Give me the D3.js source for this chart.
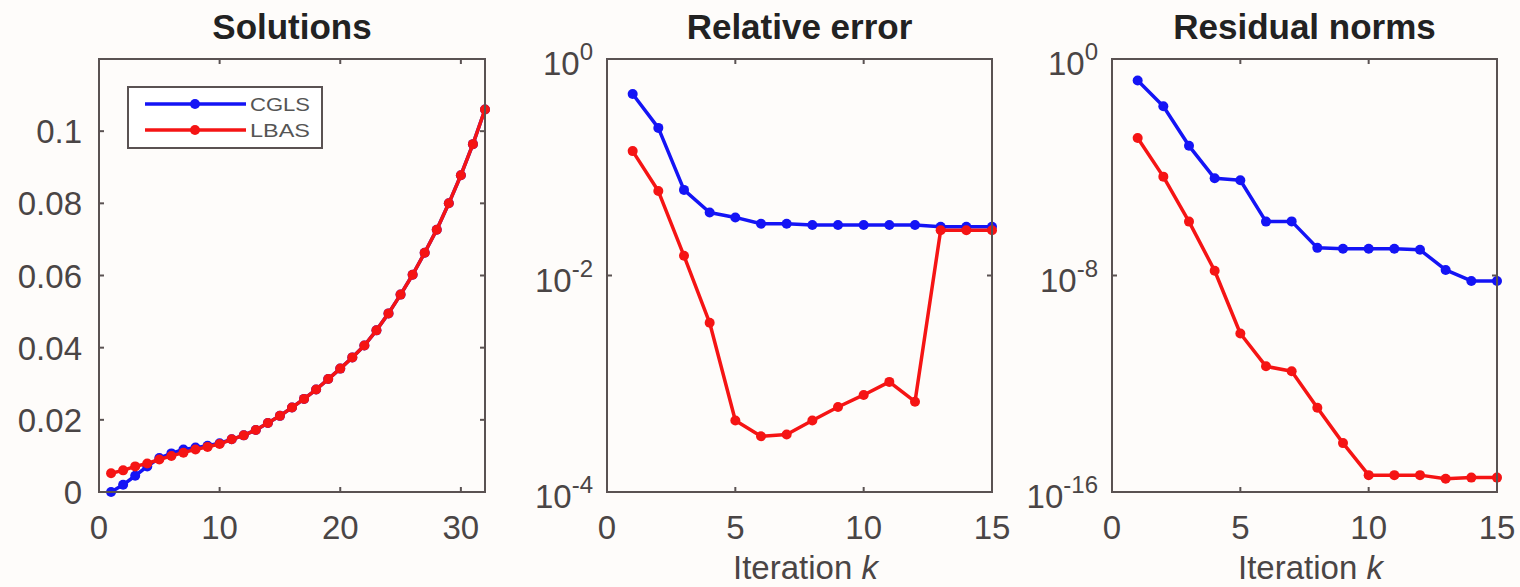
<!DOCTYPE html>
<html>
<head>
<meta charset="utf-8">
<script src="https://cdn.jsdelivr.net/npm/d3@7"></script>
<style>
  body { margin: 0; background: #fefcfa; }
  svg { display: block; font-family: "Liberation Sans", Arial, Helvetica, sans-serif; }
  .tick-label { fill: #4a4545; font-size: 33px; }
  .title { fill: #222; font-size: 35px; font-weight: bold; }
</style>
</head>
<body>
<div id="chart"></div>
<script>
// ---- data ----
const solIndex = d3.range(1, 33);
const solCGLS = [0.0, 0.0020, 0.0045, 0.0071, 0.0094, 0.0107, 0.0118, 0.0123, 0.0128, 0.0135,
  0.0146, 0.0157, 0.0172, 0.0191, 0.0211, 0.0234, 0.0258, 0.0284, 0.0313, 0.0342,
  0.0373, 0.0406, 0.0448, 0.0495, 0.0547, 0.0602, 0.0663, 0.0727, 0.0800, 0.0878, 0.0964, 0.1060];
const solLBAS = [0.0052, 0.0060, 0.0071, 0.0079, 0.0090, 0.0100, 0.0109, 0.0118, 0.0125, 0.0133,
  0.0146, 0.0157, 0.0172, 0.0191, 0.0211, 0.0234, 0.0258, 0.0284, 0.0313, 0.0342,
  0.0373, 0.0406, 0.0448, 0.0495, 0.0547, 0.0602, 0.0663, 0.0727, 0.0800, 0.0878, 0.0964, 0.1060];

const iterations = d3.range(1, 16);
const relErrCGLS = [0.475, 0.231, 0.0618, 0.0382, 0.0344, 0.0301, 0.0301, 0.0293, 0.0293, 0.0293,
  0.0293, 0.0293, 0.0282, 0.0282, 0.0282];
const relErrLBAS = [0.141, 0.0603, 0.0152, 0.00366, 0.000457, 0.000327, 0.00034, 0.000457, 0.00061, 0.000788,
  0.00104, 0.000683, 0.0262, 0.0262, 0.0262];

const resCGLS = [1.6e-1, 1.8e-2, 6.2e-4, 3.9e-5, 3.3e-5, 9.8e-7, 1.0e-6, 1.05e-7, 9.8e-8, 9.8e-8,
  9.8e-8, 8.9e-8, 1.6e-8, 6.3e-9, 6.3e-9];
const resLBAS = [1.2e-3, 4.5e-5, 9.8e-7, 1.5e-8, 7.2e-11, 4.4e-12, 2.9e-12, 1.3e-13, 6.4e-15, 4.2e-16,
  4.2e-16, 4.2e-16, 3.1e-16, 3.4e-16, 3.4e-16];

const seriesNames = ['CGLS', 'LBAS'];
const seriesColors = ['#1414f5', '#f51414'];

const width = 1520, height = 587;
const svg = d3.select('#chart').append('svg')
  .attr('width', width).attr('height', height);

const plotTop = 59, plotBottom = 492;

function supLabel(sel, exp) {
  // "10" with a superscript exponent
  sel.append('tspan').text('10');
  sel.append('tspan').attr('dy', -15).attr('font-size', 24).text(exp);
}

function drawPanel(cfg) {
  const g = svg.append('g');
  const x = d3.scaleLinear().domain(cfg.xDomain).range([cfg.left, cfg.right]);
  const y = (cfg.log ? d3.scaleLog() : d3.scaleLinear()).domain(cfg.yDomain).range([plotBottom, plotTop]);

  // title
  g.append('text').attr('class', 'title')
    .attr('x', (cfg.left + cfg.right) / 2).attr('y', 39)
    .attr('text-anchor', 'middle').text(cfg.title);

  // lines + markers
  const line = d3.line().x(d => x(d[0])).y(d => y(d[1]));
  cfg.series.forEach((vals, i) => {
    const pts = cfg.xs.map((k, j) => [k, vals[j]]);
    g.append('path').datum(pts)
      .attr('fill', 'none').attr('stroke', seriesColors[i])
      .attr('stroke-width', 3.5).attr('stroke-linejoin', 'round')
      .attr('d', line);
    g.selectAll(null).data(pts).join('circle')
      .attr('cx', d => x(d[0])).attr('cy', d => y(d[1]))
      .attr('r', 5).attr('fill', seriesColors[i]);
  });

  // box
  g.append('rect')
    .attr('x', cfg.left).attr('y', plotTop)
    .attr('width', cfg.right - cfg.left).attr('height', plotBottom - plotTop)
    .attr('fill', 'none').attr('stroke', '#5a5252').attr('stroke-width', 2);

  // ticks (inward, mirrored)
  const tk = 5;
  cfg.xTicks.forEach(v => {
    g.append('line').attr('x1', x(v)).attr('x2', x(v)).attr('y1', plotBottom).attr('y2', plotBottom - tk)
      .attr('stroke', '#5a5252').attr('stroke-width', 2);
    g.append('line').attr('x1', x(v)).attr('x2', x(v)).attr('y1', plotTop).attr('y2', plotTop + tk)
      .attr('stroke', '#5a5252').attr('stroke-width', 2);
    g.append('text').attr('class', 'tick-label')
      .attr('x', x(v)).attr('y', 539).attr('text-anchor', 'middle').text(v);
  });
  cfg.yTicks.forEach(v => {
    g.append('line').attr('x1', cfg.left).attr('x2', cfg.left + tk).attr('y1', y(v)).attr('y2', y(v))
      .attr('stroke', '#5a5252').attr('stroke-width', 2);
    g.append('line').attr('x1', cfg.right).attr('x2', cfg.right - tk).attr('y1', y(v)).attr('y2', y(v))
      .attr('stroke', '#5a5252').attr('stroke-width', 2);
    const t = g.append('text').attr('class', 'tick-label')
      .attr('text-anchor', 'end');
    if (cfg.log) {
      t.attr('x', cfg.left - 14).attr('y', y(v) + 16);
      supLabel(t, Math.round(Math.log10(v)));
    } else {
      t.attr('x', cfg.left - 17).attr('y', y(v) + 12).text(v);
    }
  });

  if (cfg.xLabel) {
    const t = g.append('text').attr('class', 'tick-label')
      .attr('x', (cfg.left + cfg.right) / 2 + 6).attr('y', 579).attr('text-anchor', 'middle')
      .attr('font-size', 35);
    t.append('tspan').text('Iteration ');
    t.append('tspan').attr('font-style', 'italic').text('k');
  }
  return { g, x, y };
}

drawPanel({
  title: 'Solutions', left: 99, right: 485,
  xDomain: [0, 32], yDomain: [0, 0.12], log: false,
  xs: solIndex, series: [solCGLS, solLBAS],
  xTicks: [0, 10, 20, 30], yTicks: [0, 0.02, 0.04, 0.06, 0.08, 0.1]
});

drawPanel({
  title: 'Relative error', left: 607, right: 992,
  xDomain: [0, 15], yDomain: [1e-4, 1], log: true,
  xs: iterations, series: [relErrCGLS, relErrLBAS],
  xTicks: [0, 5, 10, 15], yTicks: [1e-4, 1e-2, 1], xLabel: true
});

drawPanel({
  title: 'Residual norms', left: 1112, right: 1497,
  xDomain: [0, 15], yDomain: [1e-16, 1], log: true,
  xs: iterations, series: [resCGLS, resLBAS],
  xTicks: [0, 5, 10, 15], yTicks: [1e-16, 1e-8, 1], xLabel: true
});

// legend in first panel
const leg = svg.append('g');
leg.append('rect').attr('x', 128).attr('y', 87).attr('width', 194).attr('height', 61)
  .attr('fill', '#fff').attr('stroke', '#5a5252').attr('stroke-width', 2);
seriesNames.forEach((name, i) => {
  const ly = 104 + i * 26;
  leg.append('line').attr('x1', 145).attr('x2', 246).attr('y1', ly).attr('y2', ly)
    .attr('stroke', seriesColors[i]).attr('stroke-width', 3.5);
  leg.append('circle').attr('cx', 195).attr('cy', ly).attr('r', 5).attr('fill', seriesColors[i]);
  leg.append('text').attr('x', 250).attr('y', ly + 7)
    .attr('font-size', 19).attr('fill', '#555')
    .attr('textLength', 60).attr('lengthAdjust', 'spacingAndGlyphs')
    .text(name);
});
</script>
</body>
</html>
